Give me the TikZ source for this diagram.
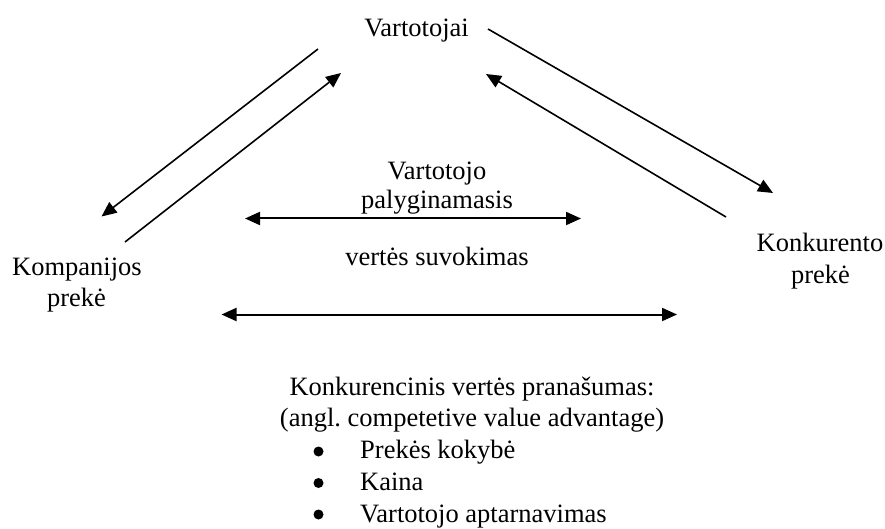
\documentclass[tikz,border=0pt]{standalone}
\usepackage{fontspec}
\setmainfont{Liberation Serif}
\usetikzlibrary{arrows.meta}
\frenchspacing
\begin{document}
\begin{tikzpicture}[x=1pt,y=-1pt,
  lbl/.style={anchor=base,inner sep=0pt,font=\fontsize{26.5}{31.7}\selectfont},
  item/.style={lbl,anchor=base west},
  dot/.style={circle,fill=black,inner sep=0pt,minimum size=10pt},
  link/.style={line width=1.6pt,-{Triangle[length=15pt,width=13pt]}},
  twoway/.style={line width=2pt,{Triangle[length=15pt,width=13pt]}-{Triangle[length=15pt,width=13pt]}}]
\useasboundingbox (0,0) rectangle (885,529);

% parties
\node[lbl] (cust) at (416.5,37) {Vartotojai};
\node[lbl] (comp1) at (77,275) {Kompanijos};
\node[lbl] (comp2) at (76.5,306) {prekė};
\node[lbl] (rival1) at (820,251.7) {Konkurento};
\node[lbl] (rival2) at (820.5,283.3) {prekė};

% centre caption
\node[lbl] (cmp1) at (437,179.3) {Vartotojo};
\node[lbl] (cmp2) at (437,209) {palyginamasis};
\node[lbl] (cmp3) at (437,265) {vertės suvokimas};

% advantage list
\node[lbl] (adv1) at (472,395) {Konkurencinis vertės pranašumas:};
\node[lbl] (adv2) at (472,426.5) {(angl. competetive value advantage)};
\node[dot] (b1) at (318.5,451.5) {};
\node[dot] (b2) at (318.5,483) {};
\node[dot] (b3) at (318.5,514.5) {};
\node[item] (i1) at (360,458) {Prekės kokybė};
\node[item] (i2) at (360,490) {Kaina};
\node[item] (i3) at (360,522) {Vartotojo aptarnavimas};

% arrow end points
\coordinate (lo-a) at (318,49);
\coordinate (lo-b) at (101.5,216.5);
\coordinate (li-a) at (125,242);
\coordinate (li-b) at (341,73);
\coordinate (ro-a) at (488,29);
\coordinate (ro-b) at (773,193);
\coordinate (ri-a) at (726,217);
\coordinate (ri-b) at (486,74);
\coordinate (h1-a) at (245,218.5);
\coordinate (h1-b) at (581,218.5);
\coordinate (h2-a) at (221.5,314.5);
\coordinate (h2-b) at (677,314.5);

% exchanges between customers and products
\draw[link] (lo-a) -- (lo-b);
\draw[link] (li-a) -- (li-b);
\draw[link] (ro-a) -- (ro-b);
\draw[link] (ri-a) -- (ri-b);

% comparison arrows
\draw[twoway] (h1-a) -- (h1-b);
\draw[twoway] (h2-a) -- (h2-b);
\end{tikzpicture}
\end{document}
